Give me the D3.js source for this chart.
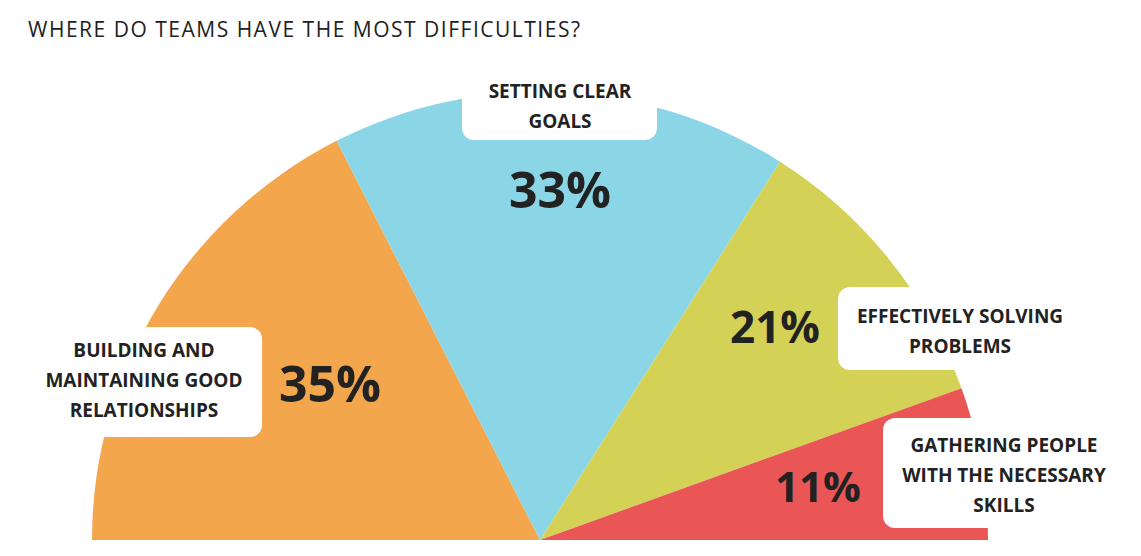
<!DOCTYPE html>
<html><head><meta charset="utf-8">
<script src="https://cdn.jsdelivr.net/npm/d3@7"></script>
<style>body{margin:0;background:#fff}</style>
</head><body>
<svg id="chart"></svg>
<script>
const categories = ["BUILDING AND|MAINTAINING GOOD|RELATIONSHIPS", "SETTING CLEAR|GOALS", "EFFECTIVELY SOLVING|PROBLEMS", "GATHERING PEOPLE|WITH THE NECESSARY|SKILLS"];
const values = [35, 33, 21, 11];
const colors = ["#F4A64D", "#8AD6E6", "#D4D256", "#EA5656"];
const title = "WHERE DO TEAMS HAVE THE MOST DIFFICULTIES?";

const W = 1141, H = 556, cx = 540, cy = 540, radius = 448;
const svg = d3.select("#chart").attr("width", W).attr("height", H);

svg.append("text").attr("x", 28).attr("y", 37)
    .attr("font-family", "Open Sans").attr("font-size", 21).attr("fill", "#222")
    .attr("textLength", 552).text(title);

const pie = d3.pie().sort(null).value(d => d).startAngle(-Math.PI/2).endAngle(Math.PI/2);
const arc = d3.arc().innerRadius(0).outerRadius(radius);
const g = svg.append("g").attr("transform", `translate(${cx},${cy})`);
const arcs = pie(values);
g.selectAll("path").data(arcs).enter().append("path")
    .attr("d", arc).attr("fill", (d, i) => colors[i]);

// label boxes: [x, y, w, h] and percent text placement
const boxes = [
    {x: 20, y: 327, w: 242, h: 110, tx: 144, ty: 350, px: 330, py: 402, ps: 50},
    {x: 462, y: 70, w: 195, h: 70, tx: 560, ty: 91, px: 560, py: 208, ps: 50},
    {x: 838, y: 287, w: 260, h: 83, tx: 960, ty: 316, px: 775, py: 343, ps: 44},
    {x: 883, y: 418, w: 270, h: 110, tx: 1004, ty: 445, px: 818, py: 502, ps: 42}
];
boxes.forEach((b, i) => {
    svg.append("rect").attr("x", b.x).attr("y", b.y).attr("width", b.w).attr("height", b.h)
        .attr("rx", 12).attr("fill", "#fff");
    categories[i].split("|").forEach((line, j) => {
        svg.append("text").attr("x", b.tx).attr("y", b.ty + j * 30).attr("dy", "0.35em")
            .attr("text-anchor", "middle").attr("font-family", "Open Sans")
            .attr("font-weight", "bold").attr("font-size", 19).attr("fill", "#222").text(line);
    });
    svg.append("text").attr("x", b.px).attr("y", b.py).attr("text-anchor", "middle")
        .attr("font-family", "Open Sans").attr("font-weight", "bold")
        .attr("font-size", b.ps).attr("fill", "#222").text(values[i] + "%");
});
</script>
</body></html>
